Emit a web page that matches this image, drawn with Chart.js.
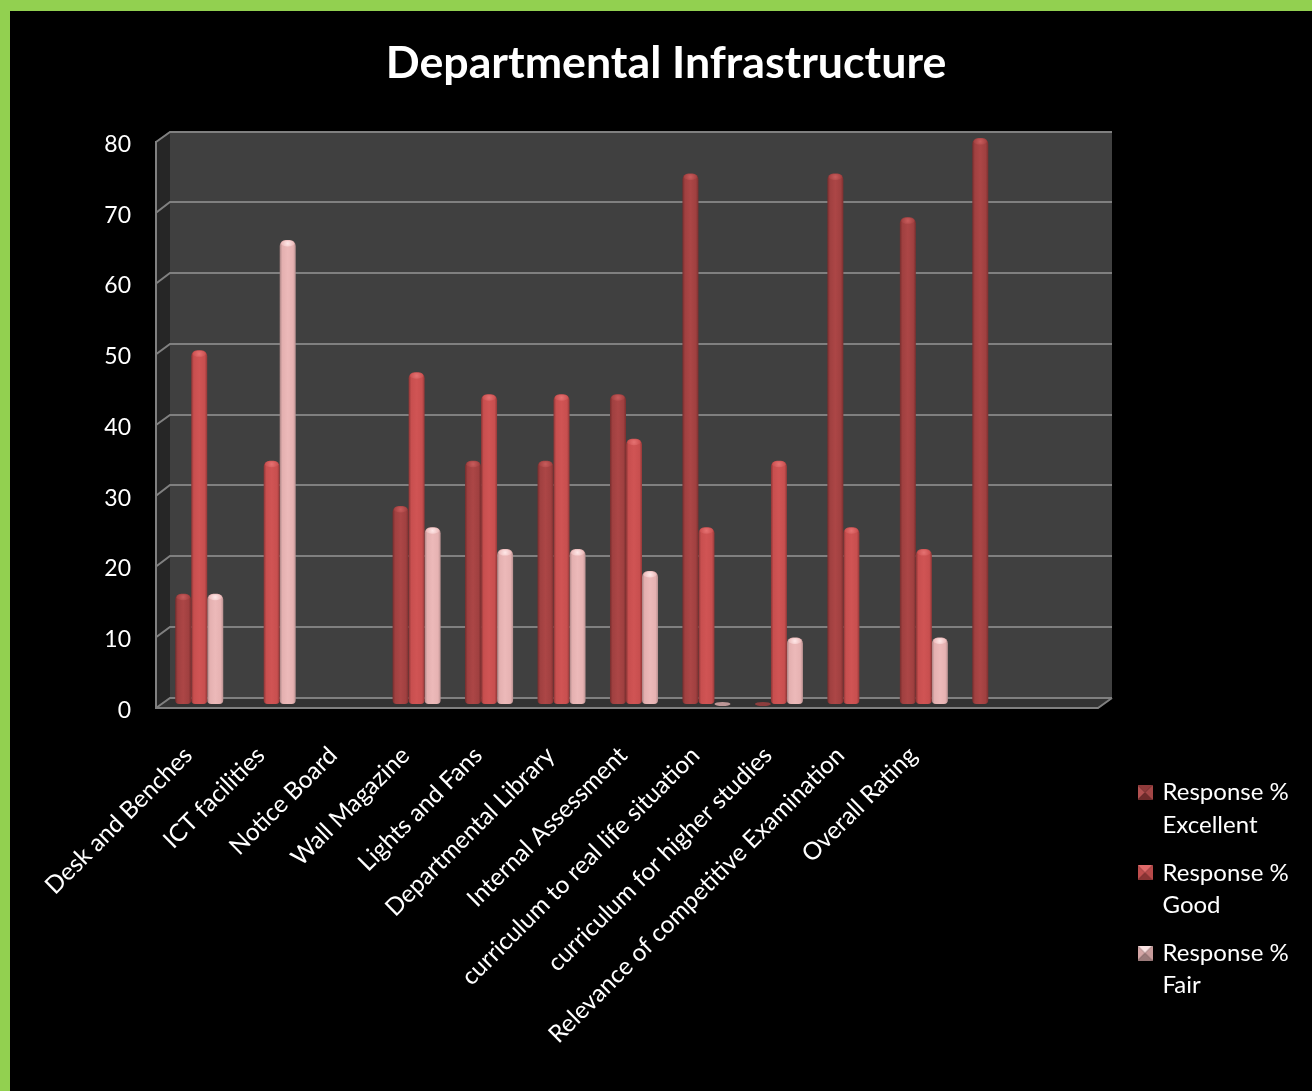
<!DOCTYPE html>
<html>
<head>
<meta charset="utf-8">
<title>Departmental Infrastructure</title>
<script src="https://cdn.jsdelivr.net/npm/chart.js@4/dist/chart.umd.js"></script>
<style>
html,body{margin:0;padding:0;width:1312px;height:1091px;overflow:hidden;background:#92D050}
#box{position:absolute;left:10px;top:11px;width:1302px;height:1080px;background:#000}
canvas{display:block}
</style>
</head>
<body>
<div id="box"><canvas id="c" width="1302" height="1080"></canvas></div>
<script>
const chartTitle = 'Departmental Infrastructure';
const categories = ['Desk and Benches','ICT facilities','Notice Board','Wall Magazine','Lights and Fans','Departmental Library','Internal Assessment','curriculum to real life situation','curriculum for higher studies','Relevance of competitive Examination','Overall Rating','',''];
const excellent = [15.6,null,null,28,34.4,34.4,43.8,75,0,75,68.8,80,null];
const good      = [50,34.4,null,46.9,43.8,43.8,37.5,25,34.4,25,21.9,null,null];
const fair      = [15.6,65.6,null,25,21.9,21.9,18.8,0,9.4,null,9.4,null,null];
const seriesNames = [['Response %','Excellent'],['Response %','Good'],['Response %','Fair']];
const yTicks = {min:0,max:80,step:10};
const barStops = [
  ['#752d2d','#a04040','#ac4646','#a04040','#7a2f2f'],
  ['#8a3434','#c84f4f','#d05454','#c84f4f','#933838'],
  ['#a98484','#e4b0b0','#ecb9b9','#e6b2b2','#b89090']
];
const capColors = [['#c85c5c','#a34040'],['#e67272','#cb5050'],['#ffe8e8','#ecb9b9']];
const markerColors = [
  ['#8f3a3a','#b25050','#6f2b2b','#a34646'],
  ['#e06a6a','#bf4d4d','#8a3434','#b84a4a'],
  ['#fbe3e3','#d4a5a5','#9b7a7a','#c79b9b']
];
const DX = 14, DY = -10.5, BAR_DY = -4, GROUP = 0.663;
const FONT = 'Lato, "Open Sans", sans-serif';

function barFill(ctx){
  const st = barStops[ctx.datasetIndex];
  const x = ctx.chart.scales.x;
  if (ctx.dataIndex == null || !x) return st[1];
  const bw = x.width / categories.length * GROUP / 3;
  const cx = x.getPixelForValue(ctx.dataIndex) + (ctx.datasetIndex - 1) * bw;
  const g = ctx.chart.ctx.createLinearGradient(cx - bw/2, 0, cx + bw/2, 0);
  [0,.16,.5,.84,1].forEach((p,i)=>g.addColorStop(p,st[i]));
  return g;
}
function makeMarker(c){
  const s = 15, cv = document.createElement('canvas');
  cv.width = s; cv.height = s;
  const k = cv.getContext('2d'), m = s/2;
  const tris = [[0,0,s,0],[0,0,0,s],[0,s,s,s],[s,0,s,s]];
  [c[0],c[1],c[2],c[3]].forEach((col,i)=>{
    const t = tris[i];
    k.fillStyle = col;
    k.beginPath(); k.moveTo(t[0],t[1]); k.lineTo(t[2],t[3]); k.lineTo(m,m); k.closePath(); k.fill();
  });
  return cv;
}
const scene3d = {
  id:'scene3d',
  beforeDatasetsDraw(chart){
    const {ctx, scales:{y}, chartArea:a} = chart;
    const L=a.left,R=a.right,T=a.top,B=a.bottom;
    ctx.save();
    ctx.fillStyle='#404040'; ctx.fillRect(L+DX,T+DY,R-L,B-T);
    ctx.fillStyle='#262626'; ctx.beginPath(); ctx.moveTo(L,T); ctx.lineTo(L+DX,T+DY); ctx.lineTo(L+DX,B+DY); ctx.lineTo(L,B); ctx.closePath(); ctx.fill();
    ctx.fillStyle='#333333'; ctx.beginPath(); ctx.moveTo(L,B); ctx.lineTo(L+DX,B+DY); ctx.lineTo(R+DX,B+DY); ctx.lineTo(R,B); ctx.closePath(); ctx.fill();
    ctx.strokeStyle='#808080'; ctx.lineWidth=2;
    y.ticks.forEach(t=>{
      const p=y.getPixelForValue(t.value), back=Math.round(p+DY);
      ctx.beginPath(); ctx.moveTo(L,p); ctx.lineTo(L+DX,back); ctx.lineTo(R+DX,back); ctx.stroke();
    });
    ctx.beginPath(); ctx.moveTo(L,T-1); ctx.lineTo(L,B); ctx.lineTo(R,B); ctx.lineTo(R+DX,Math.round(B+DY)); ctx.stroke();
    ctx.restore();
    ctx.save();
    ctx.translate(DX/2, BAR_DY);
  },
  afterDatasetDraw(chart,args){
    const ctx = chart.ctx, i = args.index, col = capColors[i];
    args.meta.data.forEach(el=>{
      if (el.skip || el.$context?.raw == null) return;
      const zero = el.$context.raw === 0, w = el.width/2;
      ctx.save();
      if (zero) {
        ctx.globalAlpha = i === 2 ? .75 : .8;
        ctx.fillStyle = col[1];
        ctx.beginPath(); ctx.ellipse(el.x,el.y,w,2,0,0,Math.PI*2); ctx.fill();
      } else {
        const cy = el.y + 3.5, rx = w - 1.5;
        const g = ctx.createRadialGradient(el.x,cy,0,el.x,cy,rx);
        g.addColorStop(0,col[0]); g.addColorStop(1,col[1]);
        ctx.fillStyle = g;
        ctx.beginPath(); ctx.ellipse(el.x,cy,rx,3,0,0,Math.PI*2); ctx.fill();
      }
      ctx.restore();
    });
  },
  afterDatasetsDraw(chart){ chart.ctx.restore(); },
  beforeDraw(chart){
    const t = chart.titleBlock; t.left = 0; t.right = 1312;
    const l = chart.legend; l.left = 1114; l.right = 1302; l.top = 754; l.bottom = 1060;
  }
};
const markers = markerColors.map(makeMarker);
new Chart(document.getElementById('c'),{
  type:'bar',
  plugins:[scene3d],
  data:{
    labels:categories,
    datasets:[excellent,good,fair].map((d,i)=>({
      label:seriesNames[i].join(' '), data:d,
      backgroundColor:barFill, borderWidth:0, borderSkipped:false,
      borderRadius:{topLeft:6,topRight:6,bottomLeft:4,bottomRight:4},
      barPercentage:1, categoryPercentage:GROUP, clip:false
    }))
  },
  options:{
    responsive:false, animation:false,
    layout:{padding:{left:0,right:214,top:0,bottom:0}},
    plugins:{
      tooltip:{enabled:false},
      title:{display:true,text:chartTitle,color:'#fff',
        font:{family:FONT,size:44.7,weight:'bold',lineHeight:1.2},
        padding:{top:26,bottom:51.4}},
      legend:{display:true,position:'chartArea',align:'start',
        labels:{
          font:{family:FONT,size:24,lineHeight:1.35},color:'#fff',padding:15.5,
          usePointStyle:true,pointStyleWidth:11,boxHeight:15,
          generateLabels(){return seriesNames.map((n,i)=>({text:n,fontColor:'#fff',pointStyle:markers[i],datasetIndex:i,lineWidth:0,strokeStyle:'transparent',fillStyle:'transparent'}));}
        }}
    },
    scales:{
      x:{
        grid:{display:false,drawTicks:false},border:{display:false},
        afterFit(s){s.height=1080-697;},
        ticks:{color:'#fff',autoSkip:false,minRotation:45,maxRotation:45,padding:33,labelOffset:-4,font:{family:FONT,size:24.3}}
      },
      y:{
        min:yTicks.min,max:yTicks.max,
        grid:{display:false,drawTicks:false},border:{display:false},
        afterFit(s){s.width=146;},
        ticks:{color:'#fff',stepSize:yTicks.step,padding:25,labelOffset:2.5,font:{family:FONT,size:23}}
      }
    }
  }
});
</script>
</body>
</html>
